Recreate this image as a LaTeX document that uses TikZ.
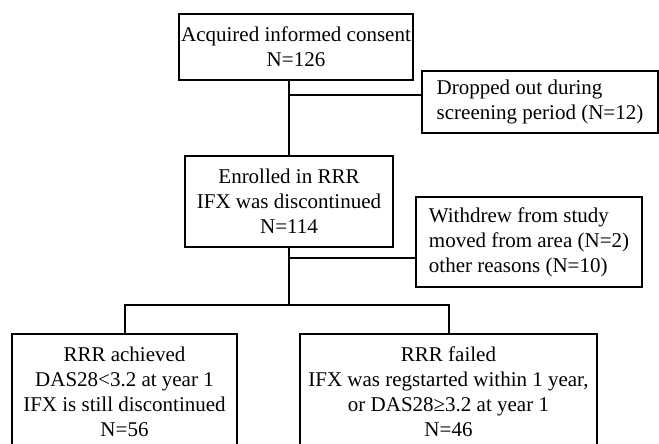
\documentclass[tikz,border=0pt]{standalone}
\usepackage{fontspec}
\setmainfont{Liberation Serif}
\usetikzlibrary{positioning,calc}
\tikzset{
  bx/.style={draw, line width=2pt, align=center, inner sep=2pt, font=\fontsize{21}{25}\selectfont},
  side/.style={bx, align=left, anchor=west},
  ln/.style={line width=2pt},
}

\begin{document}
\begin{tikzpicture}[x=1pt,y=-1pt]
  \useasboundingbox (0,0) rectangle (659,444);
  % main column
  \node[bx, minimum width=232pt, minimum height=66pt] (cons) at (296,47) {Acquired informed consent\\N=126};
  \node[bx, minimum width=208pt, minimum height=91pt] (enr) at (289,201.5) {Enrolled in RRR\\IFX was discontinued\\N=114};
  % exclusions on the right
  \node[side, minimum width=236pt, minimum height=62pt] (drop) at (421,102) {Dropped out during\\screening period (N=12)};
  \node[side, minimum width=226pt, minimum height=90pt] (wd) at (415,242) {Withdrew from study\\moved from area (N=2)\\other reasons (N=10)};
  % outcomes
  \node[bx, minimum width=225pt, minimum height=116pt, anchor=north] (ok) at (124.5,333) {RRR achieved\\DAS28<3.2 at year 1\\IFX is still discontinued\\N=56};
  \node[bx, minimum width=297pt, minimum height=116pt, anchor=north] (fail) at (448.5,333) {RRR failed\\IFX was regstarted within 1 year,\\or DAS28≥3.2 at year 1\\N=46};
  \coordinate (j1) at (289,95);
  \coordinate (j2) at (289,258);
  \coordinate (j3) at (289,305);
  \draw[ln] (enr.north |- cons.south) -- (enr.north);
  \draw[ln] (j1) -- (j1 -| drop.west);
  \draw[ln] (enr.south) -- (j3);
  \draw[ln] (j2) -- (j2 -| wd.west);
  \draw[ln] (ok.north) -- (ok.north |- j3) -- (fail.north |- j3) -- (fail.north);
\end{tikzpicture}
\end{document}
